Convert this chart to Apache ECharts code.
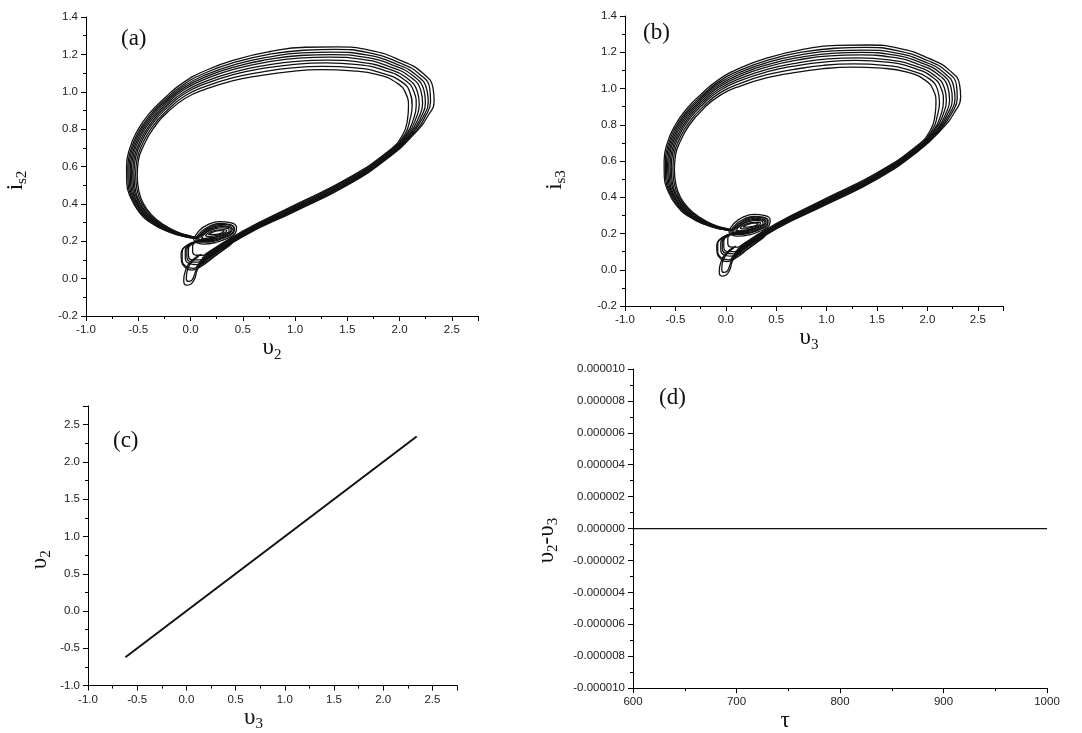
<!DOCTYPE html>
<html style="height: 100%">
<head>
    <meta charset="utf-8">
</head>
<body style="height: 100%; margin: 0; background: #fff">
<div id="container" style="height: 100%"></div>
<script type="text/javascript" src="https://cdn.jsdelivr.net/npm/echarts/dist/echarts.min.js"></script>
<script type="text/javascript">
    // attractor traced by eye, inner loop first (v2, i_s2); the same orbit is used for (v3, i_s3)
    const loop1 = [[0.14,0.13],[0.5,0.255],[1.0,0.395],[1.5,0.535],[1.9,0.685],[2.03,0.77],[2.075,0.85],[2.085,0.92],[2.06,0.99],[1.98,1.045],[1.8,1.09],[1.55,1.112],[1.25,1.118],[0.95,1.108],[0.65,1.085],[0.4,1.058],[0.15,1.015],[-0.05,0.965],[-0.22,0.89],[-0.36,0.8],[-0.45,0.71],[-0.5,0.63],[-0.51,0.55],[-0.495,0.47],[-0.45,0.4],[-0.37,0.34],[-0.26,0.29],[-0.13,0.25],[0.0,0.228],[0.08,0.22]];
    const loop2 = [[0.13,0.12],[0.5,0.25],[1.0,0.39],[1.5,0.53],[1.9,0.68],[2.05,0.772],[2.1,0.853],[2.12,0.925],[2.1,0.995],[2.02,1.053],[1.83,1.1],[1.58,1.128],[1.27,1.136],[0.97,1.128],[0.665,1.104],[0.408,1.076],[0.15,1.03],[-0.055,0.977],[-0.225,0.9],[-0.366,0.812],[-0.459,0.722],[-0.512,0.64],[-0.525,0.558],[-0.512,0.476],[-0.468,0.405],[-0.388,0.342],[-0.277,0.291],[-0.142,0.25],[-0.009,0.228],[0.075,0.219]];
    const loop3 = [[0.11,0.11],[0.5,0.246],[1.0,0.385],[1.5,0.525],[1.9,0.675],[2.066,0.773],[2.134,0.856],[2.159,0.929],[2.138,0.999],[2.052,1.062],[1.866,1.112],[1.601,1.145],[1.295,1.155],[0.995,1.147],[0.68,1.124],[0.415,1.093],[0.15,1.045],[-0.059,0.989],[-0.229,0.912],[-0.372,0.824],[-0.468,0.734],[-0.524,0.651],[-0.541,0.565],[-0.53,0.482],[-0.486,0.409],[-0.406,0.344],[-0.293,0.291],[-0.154,0.25],[-0.018,0.227],[0.071,0.218]];
    const loop4 = [[0.1,0.1],[0.5,0.242],[1.0,0.38],[1.5,0.52],[1.9,0.67],[2.08,0.774],[2.157,0.858],[2.188,0.933],[2.169,1.003],[2.081,1.068],[1.892,1.122],[1.621,1.158],[1.313,1.169],[1.013,1.163],[0.692,1.139],[0.421,1.107],[0.15,1.057],[-0.063,0.999],[-0.233,0.922],[-0.377,0.834],[-0.475,0.744],[-0.534,0.659],[-0.553,0.571],[-0.543,0.487],[-0.5,0.413],[-0.42,0.346],[-0.306,0.292],[-0.164,0.25],[-0.025,0.227],[0.067,0.218]];
    const loop5 = [[0.09,0.092],[0.5,0.239],[1.0,0.376],[1.5,0.516],[1.9,0.666],[2.096,0.776],[2.182,0.861],[2.22,0.937],[2.203,1.007],[2.112,1.075],[1.921,1.131],[1.644,1.173],[1.333,1.185],[1.033,1.18],[0.705,1.156],[0.428,1.122],[0.15,1.07],[-0.067,1.009],[-0.237,0.931],[-0.382,0.844],[-0.483,0.754],[-0.544,0.669],[-0.566,0.578],[-0.558,0.492],[-0.516,0.417],[-0.436,0.348],[-0.321,0.293],[-0.174,0.25],[-0.033,0.226],[0.064,0.217]];
    const loop6 = [[0.081,0.084],[0.5,0.235],[1.0,0.372],[1.5,0.512],[1.9,0.662],[2.109,0.777],[2.204,0.863],[2.247,0.94],[2.232,1.01],[2.138,1.081],[1.945,1.14],[1.662,1.185],[1.349,1.199],[1.049,1.194],[0.716,1.17],[0.433,1.135],[0.15,1.081],[-0.07,1.018],[-0.24,0.94],[-0.386,0.853],[-0.49,0.763],[-0.553,0.676],[-0.577,0.583],[-0.571,0.496],[-0.529,0.42],[-0.449,0.35],[-0.333,0.293],[-0.183,0.25],[-0.04,0.226],[0.06,0.217]];
    const loop7 = [[0.071,0.076],[0.5,0.232],[1.0,0.368],[1.5,0.508],[1.9,0.658],[2.122,0.778],[2.225,0.865],[2.274,0.943],[2.26,1.013],[2.165,1.087],[1.969,1.148],[1.681,1.197],[1.366,1.212],[1.066,1.208],[0.727,1.184],[0.439,1.148],[0.15,1.092],[-0.073,1.027],[-0.243,0.948],[-0.391,0.862],[-0.496,0.772],[-0.562,0.684],[-0.589,0.589],[-0.584,0.501],[-0.542,0.423],[-0.462,0.352],[-0.345,0.294],[-0.192,0.25],[-0.046,0.226],[0.057,0.216]];
    const loop8 = [[0.061,0.068],[0.5,0.229],[1.0,0.364],[1.5,0.504],[1.9,0.654],[2.136,0.779],[2.246,0.868],[2.296,0.946],[2.289,1.016],[2.191,1.094],[1.994,1.156],[1.7,1.209],[1.382,1.227],[1.082,1.222],[0.738,1.199],[0.444,1.161],[0.15,1.103],[-0.076,1.035],[-0.246,0.956],[-0.395,0.87],[-0.503,0.78],[-0.57,0.692],[-0.6,0.594],[-0.597,0.505],[-0.556,0.426],[-0.476,0.353],[-0.357,0.294],[-0.2,0.25],[-0.053,0.225],[0.054,0.216]];
    const loop9 = [[0.05,0.06],[0.5,0.225],[1.0,0.36],[1.5,0.5],[1.9,0.65],[2.15,0.78],[2.27,0.87],[2.33,0.95],[2.32,1.02],[2.22,1.1],[2.02,1.165],[1.72,1.222],[1.4,1.24],[1.1,1.238],[0.75,1.214],[0.45,1.175],[0.15,1.115],[-0.08,1.045],[-0.25,0.965],[-0.4,0.88],[-0.51,0.79],[-0.58,0.7],[-0.612,0.6],[-0.61,0.51],[-0.57,0.43],[-0.49,0.355],[-0.37,0.295],[-0.21,0.25],[-0.06,0.225],[0.05,0.215]];

    // small spiral around (0.22, 0.24)
    const spiral1 = [[0.05,0.215],[0.1,0.25],[0.18,0.28],[0.28,0.295],[0.37,0.29],[0.42,0.27],[0.41,0.245],[0.33,0.22],[0.22,0.2],[0.12,0.195],[0.06,0.2],[0.05,0.215]];
    const spiral2 = [[0.08,0.22],[0.13,0.25],[0.2,0.272],[0.29,0.283],[0.36,0.28],[0.4,0.265],[0.38,0.245],[0.31,0.225],[0.21,0.21],[0.13,0.205],[0.08,0.21],[0.08,0.22]];
    const spiral3 = [[0.11,0.225],[0.16,0.25],[0.23,0.266],[0.3,0.272],[0.36,0.268],[0.37,0.255],[0.33,0.24],[0.25,0.225],[0.17,0.215],[0.12,0.215],[0.11,0.225]];
    const spiral4 = [[0.14,0.23],[0.19,0.25],[0.26,0.26],[0.32,0.262],[0.345,0.255],[0.32,0.243],[0.25,0.232],[0.18,0.225],[0.14,0.23]];
    const spiral5 = [[0.03,0.21],[0.08,0.255],[0.17,0.29],[0.28,0.305],[0.38,0.3],[0.44,0.275],[0.43,0.245],[0.35,0.215],[0.23,0.192],[0.12,0.185],[0.05,0.195],[0.03,0.21]];
    const spiral6 = [[0.06,0.212],[0.11,0.245],[0.19,0.276],[0.29,0.29],[0.375,0.286],[0.415,0.266],[0.395,0.243],[0.32,0.222],[0.22,0.205],[0.13,0.2],[0.07,0.205],[0.06,0.212]];
    const spiral7 = [[0.095,0.222],[0.15,0.25],[0.22,0.27],[0.3,0.278],[0.365,0.274],[0.39,0.26],[0.36,0.243],[0.29,0.228],[0.2,0.215],[0.13,0.21],[0.095,0.222]];
    const spiral8 = [[0.17,0.235],[0.22,0.25],[0.28,0.257],[0.32,0.255],[0.3,0.245],[0.24,0.237],[0.17,0.235]];

    // lobes under the spiral, back into the diagonal band
    const lobe1 = [[0.22,0.205],[0.08,0.2],[-0.03,0.18],[-0.08,0.14],[-0.08,0.1],[-0.04,0.065],[0.03,0.055],[0.12,0.08],[0.25,0.13],[0.4,0.19]];
    const lobe2 = [[0.22,0.21],[0.1,0.205],[0.0,0.185],[-0.05,0.15],[-0.05,0.11],[-0.01,0.08],[0.06,0.075],[0.15,0.1],[0.3,0.16],[0.45,0.215]];
    const lobe3 = [[0.24,0.215],[0.12,0.21],[0.03,0.19],[-0.02,0.16],[-0.02,0.125],[0.02,0.1],[0.09,0.1],[0.18,0.125],[0.32,0.18]];
    const lobe4 = [[0.25,0.22],[0.15,0.215],[0.07,0.2],[0.02,0.175],[0.02,0.145],[0.06,0.125],[0.12,0.125],[0.2,0.15],[0.34,0.195]];
    const lobe5 = [[0.2,0.2],[0.06,0.195],[-0.05,0.17],[-0.09,0.13],[-0.085,0.09],[-0.05,0.06],[0.01,0.045],[0.1,0.065],[0.22,0.115],[0.38,0.18]];
    const lobe6 = [[0.23,0.212],[0.11,0.208],[0.015,0.188],[-0.035,0.155],[-0.035,0.118],[0.005,0.09],[0.075,0.088],[0.165,0.112],[0.31,0.17]];
    const tail1 = [[0.1,0.13],[0.0,0.09],[-0.05,0.04],[-0.065,-0.01],[-0.04,-0.035],[0.0,-0.03],[0.04,0.0],[0.06,0.04],[0.1,0.08],[0.2,0.12]];
    const tail2 = [[0.08,0.12],[0.0,0.08],[-0.035,0.035],[-0.04,0.0],[-0.02,-0.015],[0.01,-0.01],[0.03,0.01],[0.06,0.05],[0.15,0.1]];

    const orbit = [loop1, loop2, loop3, loop4, loop5, loop6, loop7, loop8, loop9,
        spiral1, spiral2, spiral3, spiral4, spiral5, spiral6, spiral7, spiral8,
        lobe1, lobe2, lobe3, lobe4, lobe5, lobe6, tail1, tail2];

    // (c) v2 against v3, (d) v2 - v3 against tau
    const syncLine = [[-0.62,-0.62],[0.0,0.0],[1.0,1.0],[2.34,2.34]];
    const diffLine = [[600,0],[700,0],[800,0],[900,0],[1000,0]];

    var dom = document.getElementById('container');
    var myChart = echarts.init(dom, null, {renderer: 'canvas'});

    var serif = 'Liberation Serif';
    var nameRich = {
        m: {fontFamily: serif, fontSize: 23, lineHeight: 28, color: '#111', verticalAlign: 'middle'},
        s: {fontFamily: serif, fontSize: 15, lineHeight: 11, color: '#111', verticalAlign: 'bottom'}
    };

    function labelFmt(step, digits) {
        return function (v) {
            var k = Math.round(v / step);
            if (Math.abs(v - k * step) > step * 1e-6) return '';
            var r = k * step;
            if (Math.abs(r) < step * 1e-6) r = 0;
            return r.toFixed(digits);
        };
    }

    function axis(idx, min, max, interval, digits, name, gap, pad) {
        return {
            type: 'value', gridIndex: idx, min: min, max: max, interval: interval,
            axisLine: {show: true, onZero: false, lineStyle: {color: '#000', width: 1}},
            axisTick: {show: true, length: 5, lineStyle: {color: '#000'}},
            minorTick: {show: true, splitNumber: 2, length: 3, lineStyle: {color: '#000'}},
            splitLine: {show: false},
            axisLabel: {color: '#222', fontSize: 11.5, fontFamily: 'Liberation Sans', margin: 8,
                formatter: labelFmt(interval, digits)},
            name: name, nameLocation: 'middle', nameGap: gap,
            nameTextStyle: {padding: pad, rich: nameRich}
        };
    }

    function lines(idx, list, width) {
        return list.map(function (d) {
            return {
                type: 'line', xAxisIndex: idx, yAxisIndex: idx, data: d,
                smooth: 0.5, symbol: 'none', silent: true, clip: false,
                lineStyle: {color: '#111', width: width}
            };
        });
    }

    var option = {
        animation: false,
        grid: [
            {left: 86, top: 17, width: 392, height: 299},
            {left: 625, top: 16, width: 378, height: 290},
            {left: 88, top: 406, width: 369, height: 280},
            {left: 633, top: 369, width: 414, height: 334}
        ],
        xAxis: [
            axis(0, -1, 2.75, 0.5, 1, '{m|υ}{s|2}', 18, [0, 20, 0, 0]),
            axis(1, -1, 2.75, 0.5, 1, '{m|υ}{s|3}', 16, [0, 10, 0, 0]),
            axis(2, -1, 2.75, 0.5, 1, '{m|υ}{s|3}', 16, [0, 38, 0, 0]),
            axis(3, 600, 1000, 100, 0, '{m|τ}', 14, [0, 110, 0, 0])
        ],
        yAxis: [
            axis(0, -0.2, 1.4, 0.2, 1, '{m|i}{s|s2}', 56, [0, 28, 0, 0]),
            axis(1, -0.2, 1.4, 0.2, 1, '{m|i}{s|s3}', 56, [0, 38, 0, 0]),
            axis(2, -1, 2.75, 0.5, 1, '{m|υ}{s|2}', 34, [0, 28, 0, 0]),
            axis(3, -0.00001, 0.00001, 0.000002, 6, '{m|υ}{s|2}{m|-υ}{s|3}', 72, [0, 24, 0, 0])
        ],
        graphic: [
            {type: 'text', x: 121, y: 39, style: {text: '(a)', font: '23px "Liberation Serif"', fill: '#111', verticalAlign: 'middle'}},
            {type: 'text', x: 643, y: 33, style: {text: '(b)', font: '23px "Liberation Serif"', fill: '#111', verticalAlign: 'middle'}},
            {type: 'text', x: 113, y: 441, style: {text: '(c)', font: '23px "Liberation Serif"', fill: '#111', verticalAlign: 'middle'}},
            {type: 'text', x: 659, y: 398, style: {text: '(d)', font: '23px "Liberation Serif"', fill: '#111', verticalAlign: 'middle'}}
        ],
        series: [].concat(
            lines(0, orbit, 1.3),
            lines(1, orbit, 1.3),
            lines(2, [syncLine], 2),
            lines(3, [diffLine], 1.2)
        )
    };

    myChart.setOption(option);
    window.addEventListener('resize', myChart.resize);
</script>
</body>
</html>
